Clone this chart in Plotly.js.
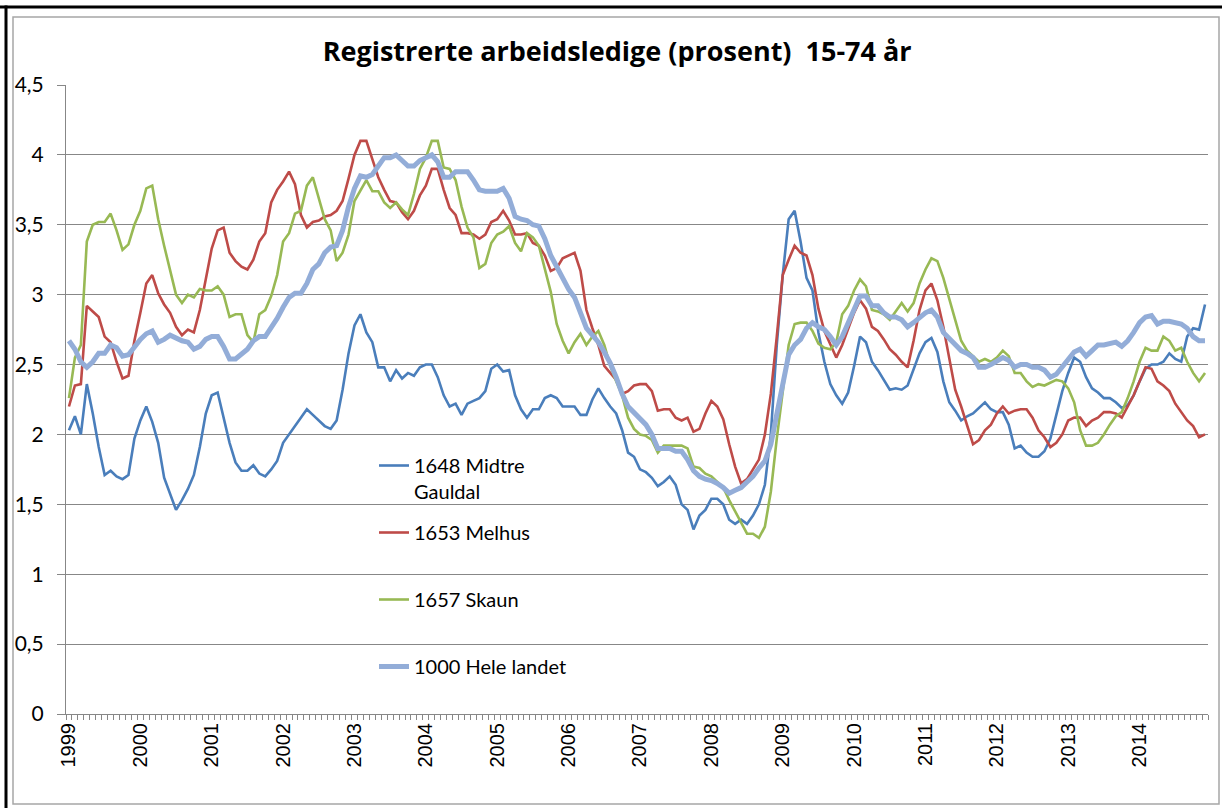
<!DOCTYPE html>
<html>
<head>
<meta charset="utf-8">
<script src="https://cdn.plot.ly/plotly-3.0.1.min.js"></script>
<style>
  html, body { margin: 0; padding: 0; background: #ffffff; }
  #chart { width: 1222px; height: 808px; }
</style>
</head>
<body>
<div id="chart"></div>
<script>
// Monthly observations, January 1999 - December 2014
const startYear = 1999;
const endYear = 2014;
const years = [];
for (let y = startYear; y <= endYear; y++) years.push(y);
const months = [];
years.forEach(y => { for (let m = 1; m <= 12; m++) months.push(y + '-' + String(m).padStart(2, '0')); });

const seriesNames = ['1648 Midtre<br>Gauldal', '1653 Melhus<br>\u00A0', '1657 Skaun<br>\u00A0', '1000 Hele landet<br>\u00A0'];

const midtreGauldal = [
  2.03, 2.13, 2.00, 2.36, 2.15, 1.91, 1.71, 1.74, 1.70, 1.68, 1.71, 1.97,
  2.10, 2.20, 2.09, 1.94, 1.69, 1.58, 1.46, 1.53, 1.61, 1.71, 1.91, 2.15,
  2.28, 2.30, 2.12, 1.94, 1.80, 1.74, 1.74, 1.78, 1.72, 1.70, 1.75, 1.81,
  1.94, 2.00, 2.06, 2.12, 2.18, 2.14, 2.10, 2.06, 2.04, 2.10, 2.32, 2.58,
  2.78, 2.86, 2.73, 2.66, 2.48, 2.48, 2.38, 2.46, 2.40, 2.44, 2.42, 2.48,
  2.50, 2.50, 2.41, 2.28, 2.20, 2.22, 2.14, 2.22, 2.24, 2.26, 2.31, 2.47,
  2.50, 2.45, 2.46, 2.28, 2.18, 2.12, 2.18, 2.18, 2.26, 2.28, 2.26, 2.20,
  2.20, 2.20, 2.14, 2.14, 2.25, 2.33, 2.26, 2.20, 2.15, 2.03, 1.87, 1.84,
  1.75, 1.73, 1.69, 1.63, 1.66, 1.70, 1.64, 1.50, 1.46, 1.32, 1.42, 1.46,
  1.54, 1.54, 1.50, 1.39, 1.36, 1.39, 1.36, 1.42, 1.50, 1.64, 2.00, 2.64,
  3.14, 3.54, 3.60, 3.38, 3.12, 3.03, 2.73, 2.52, 2.36, 2.28, 2.22, 2.30,
  2.49, 2.70, 2.66, 2.52, 2.46, 2.39, 2.32, 2.33, 2.32, 2.35, 2.47, 2.58,
  2.66, 2.69, 2.59, 2.38, 2.23, 2.17, 2.10, 2.13, 2.15, 2.19, 2.23, 2.18,
  2.16, 2.16, 2.07, 1.90, 1.92, 1.87, 1.84, 1.84, 1.88, 1.97, 2.15, 2.31,
  2.44, 2.55, 2.52, 2.41, 2.33, 2.30, 2.26, 2.26, 2.23, 2.19, 2.21, 2.28,
  2.38, 2.47, 2.50, 2.50, 2.52, 2.58, 2.54, 2.52, 2.70, 2.76, 2.75, 2.93
];

const melhus = [
  2.20, 2.35, 2.36, 2.92, 2.88, 2.84, 2.70, 2.66, 2.52, 2.40, 2.42, 2.67,
  2.87, 3.08, 3.14, 3.01, 2.93, 2.87, 2.77, 2.71, 2.75, 2.73, 2.89, 3.11,
  3.33, 3.46, 3.48, 3.30, 3.24, 3.20, 3.18, 3.25, 3.38, 3.44, 3.66, 3.75,
  3.81, 3.88, 3.79, 3.57, 3.48, 3.52, 3.53, 3.56, 3.57, 3.60, 3.67, 3.83,
  4.00, 4.10, 4.10, 3.97, 3.84, 3.75, 3.67, 3.66, 3.59, 3.54, 3.60, 3.71,
  3.78, 3.90, 3.90, 3.75, 3.62, 3.57, 3.44, 3.44, 3.43, 3.40, 3.43, 3.52,
  3.54, 3.60, 3.53, 3.43, 3.43, 3.44, 3.37, 3.35, 3.28, 3.17, 3.19, 3.26,
  3.28, 3.30, 3.17, 2.89, 2.76, 2.64, 2.49, 2.44, 2.39, 2.29, 2.31, 2.35,
  2.36, 2.36, 2.31, 2.17, 2.18, 2.18, 2.12, 2.10, 2.12, 2.02, 2.04, 2.15,
  2.24, 2.20, 2.11, 1.93, 1.77, 1.65, 1.68, 1.75, 1.82, 2.00, 2.29, 2.70,
  3.14, 3.25, 3.35, 3.30, 3.28, 3.14, 2.90, 2.74, 2.64, 2.55, 2.64, 2.76,
  2.87, 2.96, 2.90, 2.77, 2.74, 2.68, 2.61, 2.57, 2.52, 2.48, 2.67, 2.89,
  3.03, 3.08, 2.96, 2.77, 2.55, 2.32, 2.20, 2.06, 1.93, 1.96, 2.03, 2.07,
  2.15, 2.20, 2.15, 2.17, 2.18, 2.18, 2.12, 2.03, 1.98, 1.91, 1.94, 2.00,
  2.10, 2.12, 2.12, 2.06, 2.10, 2.12, 2.16, 2.16, 2.15, 2.12, 2.20, 2.28,
  2.38, 2.48, 2.47, 2.38, 2.35, 2.31, 2.22, 2.16, 2.10, 2.06, 1.98, 2.00
];

const skaun = [
  2.26, 2.55, 2.64, 3.38, 3.50, 3.52, 3.52, 3.58, 3.46, 3.32, 3.36, 3.50,
  3.60, 3.76, 3.78, 3.54, 3.35, 3.18, 3.00, 2.94, 3.00, 2.98, 3.04, 3.03,
  3.03, 3.06, 3.00, 2.84, 2.86, 2.86, 2.71, 2.66, 2.86, 2.89, 2.99, 3.14,
  3.38, 3.44, 3.58, 3.60, 3.78, 3.84, 3.69, 3.54, 3.46, 3.24, 3.30, 3.43,
  3.67, 3.75, 3.82, 3.74, 3.74, 3.66, 3.62, 3.66, 3.61, 3.57, 3.72, 3.90,
  3.98, 4.10, 4.10, 3.91, 3.90, 3.82, 3.63, 3.48, 3.41, 3.19, 3.22, 3.37,
  3.43, 3.45, 3.49, 3.37, 3.31, 3.44, 3.41, 3.35, 3.19, 3.02, 2.79, 2.67,
  2.58, 2.66, 2.72, 2.64, 2.70, 2.74, 2.64, 2.49, 2.38, 2.28, 2.12, 2.04,
  2.00, 1.99, 1.96, 1.87, 1.92, 1.92, 1.92, 1.92, 1.90, 1.77, 1.76, 1.72,
  1.70, 1.66, 1.62, 1.53, 1.45, 1.36, 1.29, 1.29, 1.26, 1.34, 1.59, 1.97,
  2.32, 2.64, 2.79, 2.80, 2.80, 2.74, 2.65, 2.62, 2.61, 2.66, 2.86, 2.92,
  3.03, 3.11, 3.06, 2.89, 2.88, 2.86, 2.82, 2.88, 2.94, 2.88, 2.94, 3.08,
  3.18, 3.26, 3.24, 3.12, 2.96, 2.82, 2.67, 2.60, 2.56, 2.52, 2.54, 2.52,
  2.55, 2.60, 2.56, 2.44, 2.44, 2.38, 2.34, 2.36, 2.35, 2.37, 2.39, 2.38,
  2.33, 2.23, 2.03, 1.92, 1.92, 1.94, 2.00, 2.07, 2.13, 2.16, 2.26, 2.38,
  2.52, 2.62, 2.60, 2.60, 2.70, 2.67, 2.60, 2.62, 2.52, 2.44, 2.38, 2.44
];

const heleLandet = [
  2.67, 2.61, 2.52, 2.48, 2.52, 2.58, 2.58, 2.64, 2.62, 2.56, 2.57, 2.63,
  2.68, 2.72, 2.74, 2.66, 2.68, 2.71, 2.69, 2.67, 2.66, 2.61, 2.63, 2.68,
  2.70, 2.70, 2.63, 2.54, 2.54, 2.58, 2.61, 2.67, 2.70, 2.70, 2.76, 2.83,
  2.91, 2.98, 3.01, 3.01, 3.08, 3.18, 3.22, 3.30, 3.34, 3.35, 3.46, 3.63,
  3.76, 3.85, 3.84, 3.86, 3.92, 3.98, 3.98, 4.00, 3.96, 3.92, 3.92, 3.96,
  3.98, 4.00, 3.95, 3.84, 3.84, 3.88, 3.88, 3.88, 3.82, 3.75, 3.74, 3.74,
  3.74, 3.76, 3.69, 3.56, 3.54, 3.53, 3.50, 3.49, 3.40, 3.28, 3.20, 3.11,
  3.04, 2.98, 2.86, 2.76, 2.71, 2.66, 2.59, 2.51, 2.41, 2.29, 2.20, 2.16,
  2.12, 2.07, 2.00, 1.90, 1.90, 1.90, 1.88, 1.88, 1.82, 1.74, 1.70, 1.68,
  1.67, 1.65, 1.62, 1.58, 1.60, 1.62, 1.66, 1.70, 1.76, 1.81, 1.93, 2.14,
  2.36, 2.57, 2.64, 2.68, 2.76, 2.80, 2.77, 2.75, 2.70, 2.64, 2.70, 2.80,
  2.90, 2.99, 2.99, 2.92, 2.92, 2.87, 2.84, 2.84, 2.82, 2.77, 2.80, 2.84,
  2.87, 2.89, 2.84, 2.73, 2.69, 2.65, 2.60, 2.58, 2.55, 2.48, 2.48, 2.50,
  2.53, 2.55, 2.53, 2.48, 2.50, 2.50, 2.48, 2.48, 2.46, 2.41, 2.43, 2.48,
  2.54, 2.59, 2.61, 2.56, 2.60, 2.64, 2.64, 2.65, 2.66, 2.63, 2.67, 2.73,
  2.80, 2.84, 2.85, 2.79, 2.81, 2.81, 2.80, 2.79, 2.76, 2.70, 2.67, 2.67
];

const yTickVals = [0, 0.5, 1, 1.5, 2, 2.5, 3, 3.5, 4, 4.5];
const yTickText = ['0', '0,5', '1', '1,5', '2', '2,5', '3', '3,5', '4', '4,5'];
const xTickText = years.map(String);

// ---- drawing ----
const W = 1222, H = 808;
const M = { l: 66, r: 14, t: 85, b: 94 };
const PW = W - M.l - M.r, PH = H - M.t - M.b;
const px = v => (v - M.l) / PW;
const py = v => (H - M.b - v) / PH;

const xIdx = months.map((_, i) => i);
const xTickVals = years.map((_, k) => months.indexOf(years[k] + '-01'));

const allSeries = [midtreGauldal, melhus, skaun, heleLandet];
const colors = ['#4A7EBB', '#BE4B48', '#98B954', '#93ADD8'];
const widths = [2.6, 2.6, 2.6, 5];

const traces = allSeries.map((s, k) => ({
  x: xIdx,
  y: s,
  type: 'scatter',
  mode: 'lines',
  name: seriesNames[k],
  legendgroup: 'g' + k,
  line: { color: colors[k], width: widths[k] },
  text: months,
  hovertemplate: '%{text}: %{y}<extra></extra>'
}));

const gridCol = '#878787';

const layout = {
  width: W, height: H,
  margin: M,
  paper_bgcolor: '#ffffff',
  plot_bgcolor: '#ffffff',
  showlegend: true,
  separators: ', ',
  title: {
    text: '<b>Registrerte arbeidsledige (prosent) \u00A015-74 år</b>',
    font: { family: '"Open Sans", Lato, sans-serif', size: 27, color: '#000000' },
    x: 0.505, xanchor: 'center',
    y: 1 - 52 / H, yanchor: 'middle', yref: 'container'
  },
  xaxis: {
    range: [-0.5, months.length - 0.5],
    tickvals: xTickVals,
    ticktext: xTickText,
    tickangle: -90,
    ticks: '',
    showgrid: false,
    zeroline: false,
    showline: true,
    linecolor: gridCol,
    linewidth: 1,
    tickfont: { family: '"Liberation Sans", Arial, sans-serif', size: 20, color: '#000000' },
    minor: { ticks: 'outside', ticklen: 5, tickcolor: gridCol, tickwidth: 1, tick0: -0.5, dtick: 1, showgrid: false },
    fixedrange: true
  },
  yaxis: {
    range: [0, 4.5],
    tickvals: yTickVals,
    ticktext: yTickText,
    ticks: 'outside',
    ticklen: 8,
    tickcolor: gridCol,
    showgrid: true,
    gridcolor: gridCol,
    gridwidth: 1,
    zeroline: false,
    showline: true,
    linecolor: gridCol,
    linewidth: 1,
    ticklabelstandoff: 9,
    tickfont: { family: 'Lato, "Open Sans", sans-serif', size: 21, color: '#000000' },
    fixedrange: true
  },
  legend: {
    x: px(374), xanchor: 'left',
    y: py(446), yanchor: 'top',
    bgcolor: 'rgba(0,0,0,0)',
    borderwidth: 0,
    font: { family: 'Lato, "Open Sans", sans-serif', size: 20, color: '#000000' },
    tracegroupgap: 12,
    valign: 'top',
    itemwidth: 30
  },
  shapes: [
    { type: 'rect', xref: 'paper', yref: 'paper', x0: px(13), x1: px(1219), y0: py(804), y1: py(17),
      line: { color: '#A6A6A6', width: 1.5 }, layer: 'below' },
    { type: 'line', xref: 'paper', yref: 'paper', x0: px(0), x1: px(1222), y0: py(7), y1: py(7),
      line: { color: '#000000', width: 3 } },
    { type: 'line', xref: 'paper', yref: 'paper', x0: px(6), x1: px(6), y0: py(5.5), y1: py(808),
      line: { color: '#000000', width: 3 } }
  ]
};

Plotly.newPlot('chart', traces, layout, { displayModeBar: false, staticPlot: true });
</script>
</body>
</html>
